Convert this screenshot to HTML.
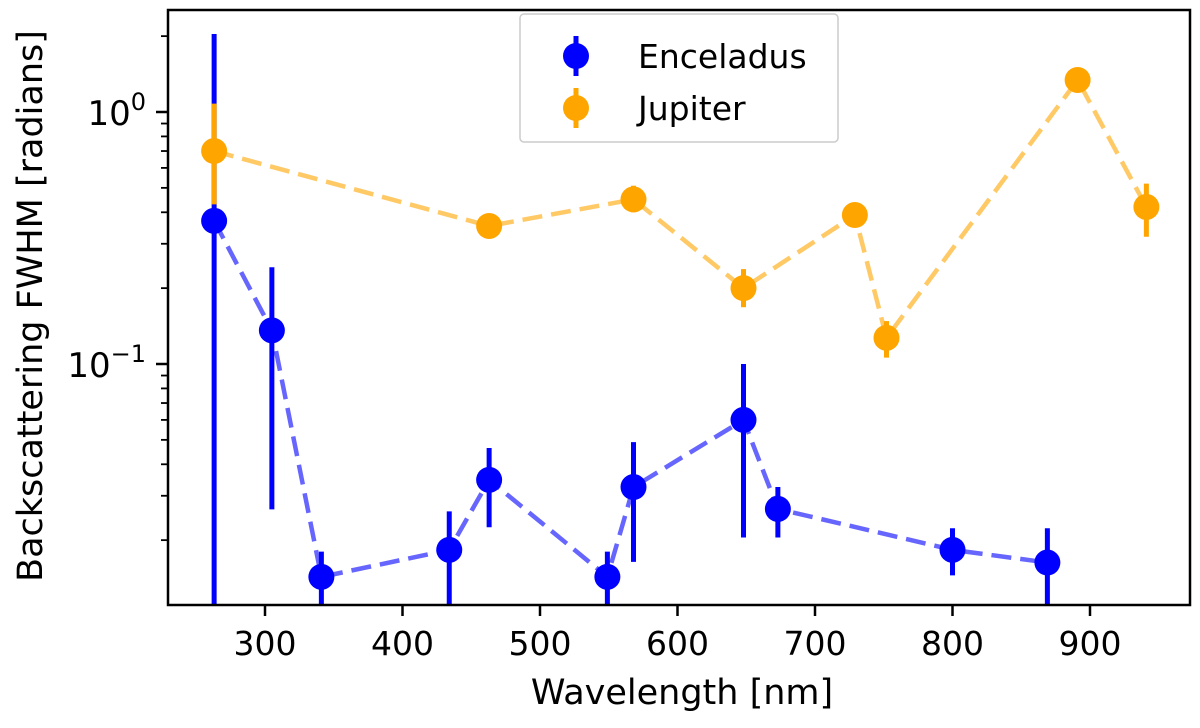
<!DOCTYPE html>
<html><head><meta charset="utf-8"><style>
body{margin:0;background:#fff;}
svg text{font-family:"DejaVu Sans","Liberation Sans",sans-serif;fill:#000;}
</style></head><body>
<svg id="chart" width="1200" height="723" xmlns="http://www.w3.org/2000/svg">
</svg>
<script>
const encX=[263,305,341,434,463,549,568,648,673,800,869];
const encY=[0.37,0.136,0.0143,0.0183,0.0347,0.0143,0.0325,0.060,0.0266,0.0183,0.0163];
const encLo=[0.005,0.0265,0.005,0.005,0.0225,0.005,0.0164,0.0205,0.0205,0.0145,0.005];
const encHi=[2.04,0.242,0.018,0.026,0.0464,0.018,0.049,0.10,0.0325,0.0223,0.0223];
const jupX=[263,463,568,648,729,752,891,941];
const jupY=[0.70,0.353,0.45,0.20,0.39,0.127,1.34,0.42];
const jupLo=[0.43,0.335,0.40,0.168,0.37,0.106,1.27,0.32];
const jupHi=[1.08,0.37,0.51,0.238,0.41,0.148,1.41,0.52];
const xTicks=[300,400,500,600,700,800,900];

const L=168,R=1190,T=10,B=605;
const NS="http://www.w3.org/2000/svg";
const svg=document.getElementById('chart');
function xs(v){return 265+(v-300)*1.375;}
function ys(v){return 112-Math.log10(v)*252;}
function mk(tag,attrs,parent){const e=document.createElementNS(NS,tag);for(const k in attrs)e.setAttribute(k,attrs[k]);(parent||svg).appendChild(e);return e;}
const clip=mk('clipPath',{id:'pc'});mk('rect',{x:L,y:T,width:R-L,height:B-T},clip);
const plot=mk('g',{'clip-path':'url(#pc)'});



function series(X,Y,Lo,Hi,col,name){
  const pts=X.map((x,i)=>xs(x)+','+ys(Y[i])).join(' ');
  const ln=mk('polyline',{points:pts,fill:'none',stroke:col,'stroke-opacity':0.6,'stroke-width':4.5,'stroke-dasharray':'20,9'},plot);
  
  
  X.forEach((x,i)=>{
    const e=mk('line',{x1:xs(x),x2:xs(x),y1:ys(Lo[i]),y2:ys(Hi[i]),stroke:col,'stroke-width':5},plot);
    
    
  });
  X.forEach((x,i)=>{
    const c=mk('ellipse',{cx:xs(x),cy:ys(Y[i]),rx:13,ry:13,fill:col},plot);
    
    
  });
}
series(encX,encY,encLo,encHi,'#0000ff','enceladus');
series(jupX,jupY,jupLo,jupHi,'#ffa500','jupiter');

xTicks.forEach(v=>{
  const x=xs(v);
  mk('line',{x1:x,x2:x,y1:B,y2:B+11,stroke:'#000','stroke-width':2.5});
  const t=mk('text',{x:x,y:B+50,'font-size':33,'text-anchor':'middle'});
  t.textContent=v;
  
  
});
for(let d=-2;d<=0;d++){
  for(let m=1;m<=9;m++){
    const v=m*Math.pow(10,d);const y=ys(v);
    if(y<T||y>B)continue;
    mk('line',{x1:L-(m==1?12:7),x2:L,y1:y,y2:y,stroke:'#000','stroke-width':m==1?2.5:1.8});
  }
}
const majors=[[0,'0'],[-1,'−1']];
majors.forEach(([d,s])=>{
  const y=ys(Math.pow(10,d));
  const t=mk('text',{x:L-22,y:y+13,'font-size':34,'text-anchor':'end'});
  t.innerHTML='10<tspan dy="-15" font-size="24">'+s+'</tspan>';
  
  
});
const fr=mk('rect',{x:L,y:T,width:R-L,height:B-T,fill:'none',stroke:'#000','stroke-width':2.5});


const xl=mk('text',{x:(L+R)/2+3,y:704,'font-size':35,'text-anchor':'middle'});
xl.textContent='Wavelength [nm]';


const yl=mk('text',{x:0,y:0,'font-size':35,'text-anchor':'middle',transform:'translate(42,306) rotate(-90)'});
yl.textContent='Backscattering FWHM [radians]';


const lg=mk('g',{});


mk('rect',{x:520,y:14,width:318,height:128,rx:4,fill:'#fff','fill-opacity':0.8,stroke:'#ccc','stroke-width':1.5},lg);
[['Enceladus','#0000ff',56],['Jupiter','#ffa500',108]].forEach(([n,c,y])=>{
  const e=mk('g',{},lg);
  
  
  mk('line',{x1:576,x2:576,y1:y-20,y2:y+20,stroke:c,'stroke-width':5},e);
  mk('circle',{cx:576,cy:y,r:13,fill:c},e);
  const t=mk('text',{x:638,y:y+12,'font-size':33},e);
  t.textContent=n;
});
</script>
</body></html>
